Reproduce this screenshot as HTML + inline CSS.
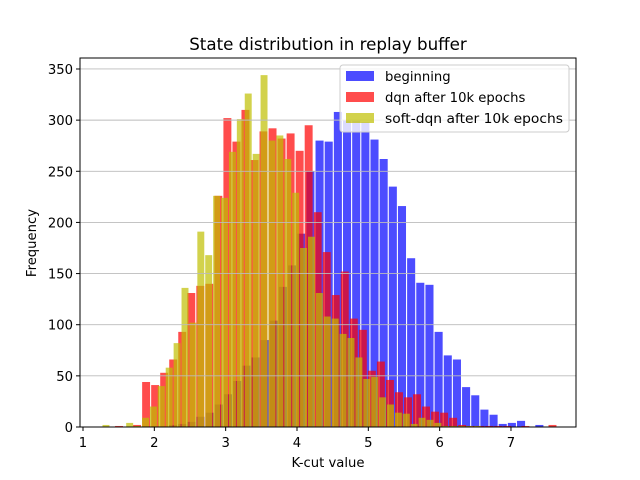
<!DOCTYPE html>
<html><head><meta charset="utf-8"><style>
body{margin:0;background:#fff}
svg{display:block;font-family:"DejaVu Sans","Liberation Sans",sans-serif}
</style></head><body>
<svg id="chart" width="640" height="480" viewBox="0 0 640 480">
<rect width="640" height="480" fill="#fff"/>
<g id="bars"></g>
<g id="grid"></g>
<rect x="80" y="58" width="496" height="369" fill="none" stroke="#000" stroke-width="1"/>
<g id="ticks"></g>
<text x="328" y="50" font-size="16.7" text-anchor="middle">State distribution in replay buffer</text>
<text x="328" y="467" font-size="13.2" text-anchor="middle">K-cut value</text>
<text transform="translate(36,243) rotate(-90)" font-size="13.2" text-anchor="middle">Frequency</text>
<g>
<rect x="340" y="65" width="229" height="67" rx="3" fill="#fff" fill-opacity="0.8" stroke="#ccc"/>
<rect x="346" y="71" width="28" height="10" fill="rgba(0,0,255,0.7)"/>
<text x="385" y="81" font-size="13.2">beginning</text>
<rect x="346" y="92" width="28" height="10" fill="rgba(255,0,0,0.7)"/>
<text x="385" y="102" font-size="13.2">dqn after 10k epochs</text>
<rect x="346" y="113" width="28" height="10" fill="rgba(191,191,0,0.7)"/>
<text x="385" y="123" font-size="13.2" textLength="178" lengthAdjust="spacingAndGlyphs">soft-dqn after 10k epochs</text>
</g>
</svg>
<script>
const xTicks = [1,2,3,4,5,6,7];
const yTicks = [0,50,100,150,200,250,300,350];
const blueStart = 2.262, blueStep = 0.1284;
const blueValues = [2,3,5,10,14,22,32,45,60,68,85,104,137,158,189,250,280,279,308,300,300,298,281,262,235,216,165,141,139,93,70,66,39,31,17,12,3,4,6,0,2];
const redStart = 1.505, redStep = 0.1266;
const redValues = [1,0,2,44,41,53,66,93,131,138,140,226,302,279,310,261,289,292,282,287,270,295,210,171,129,152,106,95,55,64,46,34,29,32,20,15,14,9,2,1,1,1,1,1,0,1,0,0,2];
const yellowStart = 1.322, yellowStep = 0.1108;
const yellowValues = [2,0,0,4,1,9,20,40,58,82,136,102,191,168,226,224,269,301,326,267,344,280,285,262,229,175,186,131,108,106,91,87,68,47,49,29,22,14,13,3,9,7,4,1,1,1,1,1];

const NS = "http://www.w3.org/2000/svg";
const X0 = 80, X1 = 576, Y0 = 427, Y1 = 58;
function xs(v){ return 83 + (v-1)*71.33; }
function ys(v){ return 427 - v*1.0229; }
const bars = document.getElementById('bars');
function drawSeries(start, step, vals, color, frac, name){
  vals.forEach((v,i)=>{
    if(v<=0) return;
    const c = start + i*step;
    const w = step*71.33*frac;
    const r = document.createElementNS(NS,'rect');
    r.setAttribute('x', xs(c)-w/2);
    r.setAttribute('y', ys(v));
    r.setAttribute('width', w);
    r.setAttribute('height', Y0-ys(v));
    r.setAttribute('fill', color);
    
    
    bars.appendChild(r);
  });
}
drawSeries(blueStart, blueStep, blueValues, 'rgba(0,0,255,0.7)', 0.88, 'bar-beginning');
drawSeries(redStart, redStep, redValues, 'rgba(255,0,0,0.7)', 0.88, 'bar-dqn');
drawSeries(yellowStart, yellowStep, yellowValues, 'rgba(191,191,0,0.7)', 0.88, 'bar-soft-dqn');

const grid = document.getElementById('grid');
const ticks = document.getElementById('ticks');
yTicks.forEach(t=>{
  const y = ys(t);
  const g = document.createElementNS(NS,'line');
  g.setAttribute('x1',X0); g.setAttribute('x2',X1); g.setAttribute('y1',y); g.setAttribute('y2',y);
  g.setAttribute('stroke','#bbb'); g.setAttribute('stroke-width','0.9');
  
  
  grid.appendChild(g);
  const tk = document.createElementNS(NS,'line');
  tk.setAttribute('x1',X0-4); tk.setAttribute('x2',X0); tk.setAttribute('y1',y); tk.setAttribute('y2',y);
  tk.setAttribute('stroke','#000');
  
  
  ticks.appendChild(tk);
  const tx = document.createElementNS(NS,'text');
  tx.setAttribute('x',X0-7); tx.setAttribute('y',y+5); tx.setAttribute('font-size','13.2'); tx.setAttribute('text-anchor','end');
  tx.textContent = t;
  
  
  ticks.appendChild(tx);
});
xTicks.forEach(t=>{
  const x = xs(t);
  const tk = document.createElementNS(NS,'line');
  tk.setAttribute('x1',x); tk.setAttribute('x2',x); tk.setAttribute('y1',Y0); tk.setAttribute('y2',Y0+4);
  tk.setAttribute('stroke','#000');
  
  
  ticks.appendChild(tk);
  const tx = document.createElementNS(NS,'text');
  tx.setAttribute('x',x); tx.setAttribute('y',Y0+20); tx.setAttribute('font-size','13.2'); tx.setAttribute('text-anchor','middle');
  tx.textContent = t;
  
  
  ticks.appendChild(tx);
});
</script>
</body></html>
